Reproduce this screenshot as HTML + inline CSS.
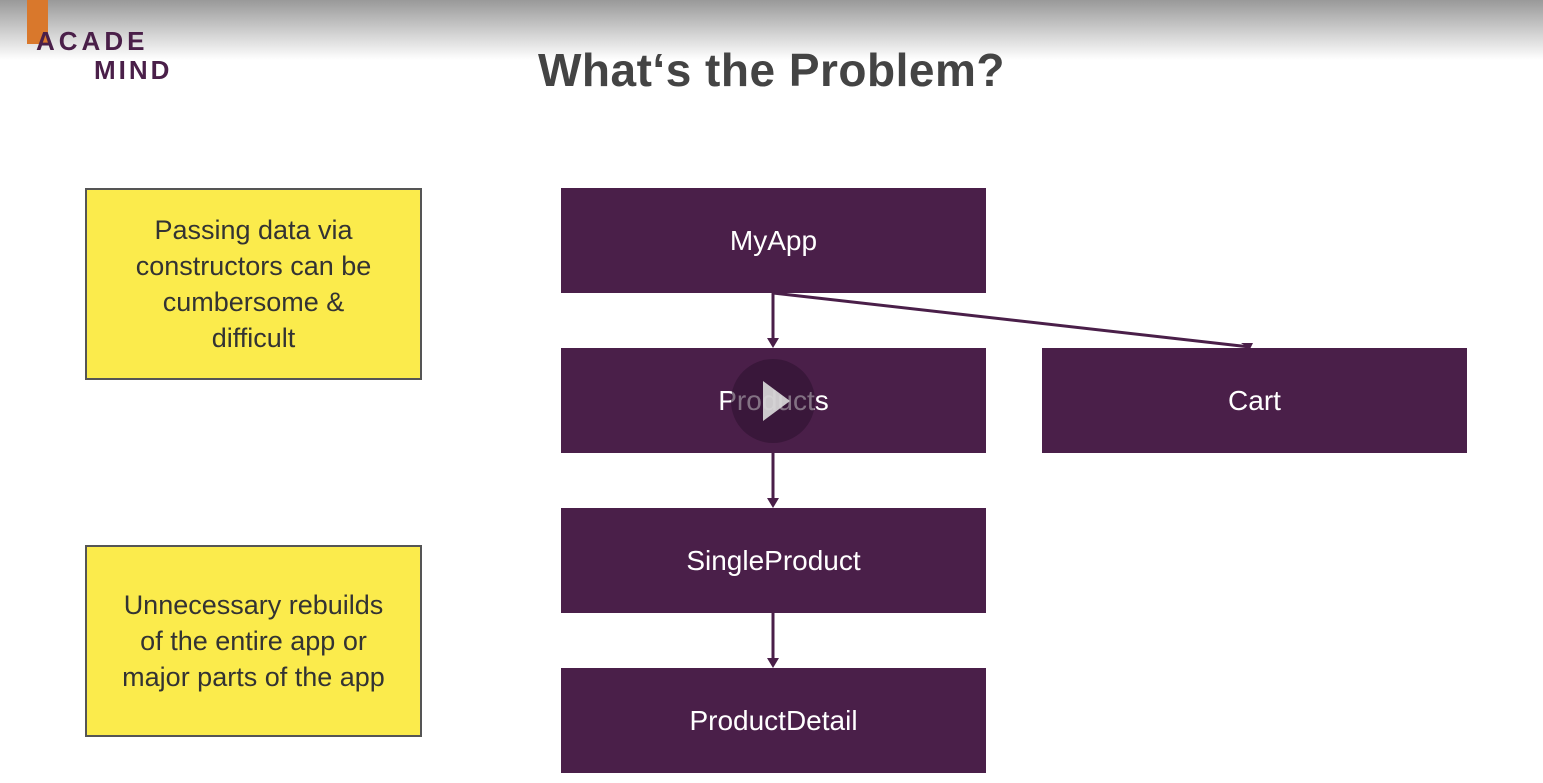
<!DOCTYPE html>
<html><head><style>
body{margin:0;width:1543px;height:783px;overflow:hidden;background:#fff;font-family:"Liberation Sans",sans-serif;position:relative}
.top{position:absolute;left:0;top:0;width:1543px;height:60px;background:linear-gradient(#999,#fff)}
.box{position:absolute;background:#4a1f49;color:#fff;font-size:28px;display:flex;align-items:center;justify-content:center}
.y{position:absolute;background:#fbeb4c;border:2px solid #555;color:#333;font-size:27px;display:flex;align-items:center;justify-content:center;text-align:center;line-height:36px;box-sizing:border-box}
</style></head><body>
<div class="top"></div>
<div style="position:absolute;left:27px;top:0;width:21px;height:44px;background:#d9782c"></div>
<div style="position:absolute;left:36px;top:26px;font-weight:bold;font-size:26px;letter-spacing:4px;color:#4a1f49">ACADE</div>
<div style="position:absolute;left:94px;top:55px;font-weight:bold;font-size:26px;letter-spacing:3px;color:#4a1f49">MIND</div>
<div style="position:absolute;left:0;width:1543px;top:43px;text-align:center;font-weight:bold;font-size:46px;color:#444;letter-spacing:0.5px">What‘s the Problem?</div>
<div class="y" style="left:85px;top:188px;width:337px;height:192px">Passing data via<br>constructors can be<br>cumbersome &amp;<br>difficult</div>
<div class="y" style="left:85px;top:545px;width:337px;height:192px">Unnecessary rebuilds<br>of the entire app or<br>major parts of the app</div>
<div class="box" style="left:561px;top:188px;width:425px;height:105px">MyApp</div>
<div class="box" style="left:561px;top:348px;width:425px;height:105px">Products</div>
<div class="box" style="left:1042px;top:348px;width:425px;height:105px">Cart</div>
<div class="box" style="left:561px;top:508px;width:425px;height:105px">SingleProduct</div>
<div class="box" style="left:561px;top:668px;width:425px;height:105px">ProductDetail</div>
<svg style="position:absolute;left:0;top:0" width="1543" height="783">
<g stroke="#4a1f49" stroke-width="3" fill="none">
<line x1="773" y1="293" x2="773" y2="340"/><line x1="773" y1="453" x2="773" y2="500"/><line x1="773" y1="613" x2="773" y2="660"/>
<line x1="773" y1="293" x2="1250" y2="347"/>
</g>
<g fill="#4a1f49"><polygon points="767,338 779,338 773,348"/><polygon points="767,498 779,498 773,508"/><polygon points="767,658 779,658 773,668"/><polygon points="1241,343 1253,343 1250,349"/></g>
<circle cx="773" cy="401" r="42" fill="#2e1230" opacity="0.6"/>
<polygon points="763,381 763,421 790,401" fill="#ddd" opacity="0.9"/>
</svg>
</body></html>
